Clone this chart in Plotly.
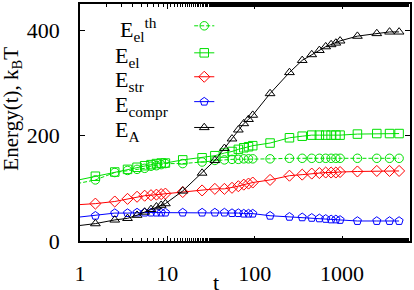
import math
import plotly.graph_objects as go

# ---- data ----
t = [0.5, 1.5, 2.5, 3.5, 4.5, 5.5, 6.5, 7.5, 8.5, 9.5,
     15, 25, 35, 45, 55, 65, 75, 85, 95,
     150, 250, 350, 450, 550, 650, 750, 850, 950,
     1500, 2500, 3500, 4500]

E_el_th = [100, 116, 130, 134, 136, 138, 142, 143, 145, 147,
           147, 150, 153, 154, 155, 155, 156, 156, 156,
           156, 157, 157, 157, 157, 157, 157, 157, 157,
           157, 157, 157, 157]
E_el = [106, 123, 131, 136, 140, 143, 145, 147, 148, 148,
        154, 158, 162, 167, 170, 174, 177, 179, 181,
        186, 196, 199, 201, 201, 201, 201, 201, 201,
        203, 204, 204, 204]
E_str = [66, 71, 75, 80, 84, 86, 87, 88, 89, 90,
         93, 96, 99, 99, 101, 104, 107, 109, 111,
         116, 124, 126, 128, 129, 130, 130, 130, 131,
         132, 133, 133, 133]
E_compr = [40, 48, 53, 53, 54, 54, 54, 54, 54, 54,
           54, 54, 54, 54, 53, 53, 52, 52, 52,
           48, 46, 45, 44, 43, 42, 41, 41, 40,
           38, 38, 38, 38]
E_A = [23.5, 33, 40, 43, 49, 55, 60, 65, 68, 71,
       95, 129, 153, 176, 194, 211, 223, 231, 239,
       280, 320, 343, 354, 362, 369, 373, 376, 380,
       389, 394, 397, 397]

labels = ["E<sub>el</sub><sup>th</sup>", "E<sub>el</sub>", "E<sub>str</sub>",
          "E<sub>compr</sub>", "E<sub>A</sub>"]
x_tick_vals = [1, 10, 100, 1000]
x_tick_text = ["1", "10", "100", "1000"]
y_tick_vals = [0, 200, 400]
x_range = [1, 6000]
y_range = [0, 450]

GREEN = "#00e000"
series = [
    (E_el_th, GREEN, "circle-open", "4px,2px"),
    (E_el, GREEN, "square-open", "solid"),
    (E_str, "#ff0000", "diamond-open", "solid"),
    (E_compr, "#0000ff", "pentagon-open", "solid"),
    (E_A, "#000000", "triangle-up-open", "solid"),
]

FONT = "Liberation Serif, Times New Roman, serif"
fig = go.Figure()
for vals, col, sym, dash in series:
    fig.add_trace(go.Scatter(
        x=t, y=vals, mode="lines+markers",
        line=dict(color=col, width=1, dash=dash),
        marker=dict(symbol=sym, size=8.5, color=col, line=dict(width=1, color=col)),
        showlegend=False, cliponaxis=True))

# ---- custom key (text left, sample right), drawn on a hidden overlay axis ----
key_y = [0.908, 0.794, 0.693, 0.588, 0.479]
key_x0, key_x1 = 0.346, 0.407
text_x = [0.114, 0.099, 0.099, 0.099, 0.099]
for i, (vals, col, sym, dash) in enumerate(series):
    fig.add_trace(go.Scatter(
        x=[key_x0, key_x1], y=[key_y[i], key_y[i]], mode="lines",
        line=dict(color=col, width=1, dash=dash),
        xaxis="x2", yaxis="y2", showlegend=False, hoverinfo="skip"))
    fig.add_trace(go.Scatter(
        x=[(key_x0 + key_x1) / 2], y=[key_y[i]], mode="markers",
        marker=dict(symbol=sym, size=8.5, color=col, line=dict(width=1, color=col)),
        xaxis="x2", yaxis="y2", showlegend=False, hoverinfo="skip"))
    fig.add_annotation(x=text_x[i], y=key_y[i], xref="paper", yref="paper",
                       text=labels[i], showarrow=False, xanchor="left",
                       yanchor="middle", yshift=-4,
                       font=dict(family=FONT, size=22, color="black"))

# axis titles as annotations
fig.add_annotation(x=(217 - 80) / 332, y=-0.175, xref="paper", yref="paper",
                   text="t", showarrow=False, xanchor="center", yanchor="middle",
                   font=dict(family=FONT, size=22, color="black"))
fig.add_annotation(x=-0.205, y=0.56, xref="paper", yref="paper",
                   text="Energy(t), k<sub>B</sub>T", showarrow=False, textangle=-90,
                   xanchor="center", yanchor="middle",
                   font=dict(family=FONT, size=21, color="black"))

axis_common = dict(showline=True, linecolor="black", linewidth=1.5, mirror="ticks",
                   ticks="inside", ticklen=5, tickwidth=1, tickcolor="black",
                   showgrid=False, zeroline=False,
                   tickfont=dict(family=FONT, size=22, color="black"))
fig.update_layout(
    width=414, height=290,
    margin=dict(l=80, r=2, t=3, b=49),
    paper_bgcolor="white", plot_bgcolor="white",
    xaxis=dict(type="log", range=[math.log10(x_range[0]), math.log10(x_range[1])],
               tickvals=x_tick_vals, ticktext=x_tick_text, ticklabelstandoff=12,
               minor=dict(ticks="inside", ticklen=3, tickcolor="black", showgrid=False),
               **axis_common),
    yaxis=dict(range=y_range, tickvals=y_tick_vals, ticklabelstandoff=14, **axis_common),
    xaxis2=dict(overlaying="x", range=[0, 1], visible=False, fixedrange=True),
    yaxis2=dict(overlaying="y", range=[0, 1], visible=False, fixedrange=True),
)
fig.write_html("out.html", config={"displayModeBar": False},
               post_script="document.body.style.margin='0';document.body.style.padding='0';")
